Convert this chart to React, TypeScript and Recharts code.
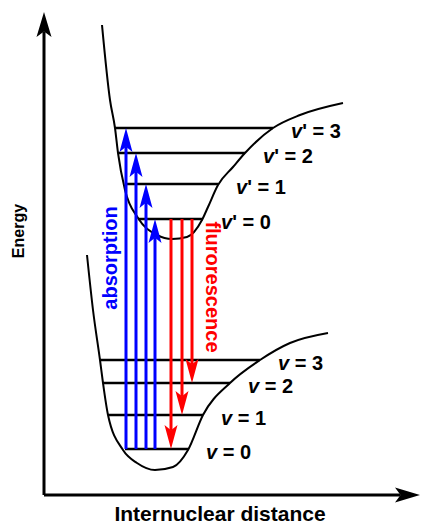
import React from 'react';
import { ComposedChart, Line, XAxis, YAxis, ReferenceLine, Customized } from 'recharts';

// potential energy curves: r = internuclear distance, e = energy (arbitrary units)
const excitedR = [58, 66, 71, 74, 81, 94, 113, 128, 143, 158, 164, 174, 189, 201, 229, 256, 299];
const excitedE = [470, 395, 367, 342, 305, 277, 260, 256, 258, 275, 288, 310, 328, 342, 367, 380, 392];
const groundR = [43, 49, 56, 59, 64, 79, 93, 111, 129, 144, 159, 186, 216, 246, 284];
const groundE = [240, 185, 135, 112, 80, 45, 32, 25, 28, 45, 80, 112, 135, 152, 162];

// vibrational levels (v = 0..3)
const quanta = [0, 1, 2, 3];
const excitedLevels = [276, 311, 342, 367];
const excitedLeft = [94, 83, 74, 71];
const excitedRight = [159, 174, 201, 229];
const groundLevels = [46, 80, 112, 135];
const groundLeft = [81, 64, 59, 56];
const groundRight = [144, 159, 186, 216];

// transitions
const absorptionR = [82, 92, 102, 111];
const absorptionTo = [3, 2, 1, 0];
const fluorescenceR = [127, 138, 148];
const fluorescenceTo = [0, 1, 2];

const R_MAX = 377;
const E_MAX = 495;
const FONT = '"Liberation Sans", Arial, sans-serif';

const excitedCurve = excitedR.map((r, i) => ({ r, e: excitedE[i] }));
const groundCurve = groundR.map((r, i) => ({ r, e: groundE[i] }));

function arrowShape(color: string, width: number, headLen: number, headW: number) {
  return (p: any) => {
    const { x1, y1, x2, y2 } = p;
    const dx = x2 - x1;
    const dy = y2 - y1;
    const len = Math.hypot(dx, dy) || 1;
    const ux = dx / len;
    const uy = dy / len;
    const px = -uy;
    const py = ux;
    const bx = x2 - ux * headLen;
    const by = y2 - uy * headLen;
    const nx = x2 - ux * headLen * 0.78;
    const ny = y2 - uy * headLen * 0.78;
    const pts = `${x2},${y2} ${bx + (px * headW) / 2},${by + (py * headW) / 2} ${nx},${ny} ${bx - (px * headW) / 2},${by - (py * headW) / 2}`;
    return (
      <g>
        <line x1={x1} y1={y1} x2={nx} y2={ny} stroke={color} strokeWidth={width} />
        <polygon points={pts} fill={color} />
      </g>
    );
  };
}

function levelShape(n: number, prime: boolean) {
  return (p: any) => {
    const { x1, y1, x2, y2 } = p;
    return (
      <g>
        <line x1={x1} y1={y1} x2={x2} y2={y2} stroke="#000" strokeWidth={2.6} />
        <text x={x2 + 18} y={y2 + 10} fontFamily={FONT} fontWeight="bold" fontSize={20} fill="#000">
          <tspan fontStyle="italic">v</tspan>
          {prime ? "' = " : ' = '}
          {n}
        </text>
      </g>
    );
  };
}

const Texts = () => (
  <g fontFamily={FONT} fontWeight="bold">
    <text x={18} y={231} fontSize={16} textAnchor="middle" dominantBaseline="central" transform="rotate(-90 18 231)">
      Energy
    </text>
    <text x={110} y={258} fontSize={20} fill="#0000ff" textAnchor="middle" dominantBaseline="central" transform="rotate(-90 110 258)">
      absorption
    </text>
    <text x={213} y={287} fontSize={20} fill="#ff0000" textAnchor="middle" dominantBaseline="central" transform="rotate(90 213 287)">
      flurorescence
    </text>
    <text x={220} y={521} fontSize={21} textAnchor="middle">
      Internuclear distance
    </text>
  </g>
);

export default function App() {
  return (
    <div style={{ position: 'absolute', left: 0, top: 0, width: 421, height: 526, background: '#fff' }}>
      <ComposedChart width={421} height={526} margin={{ top: 0, right: 0, bottom: 31, left: 44 }}>
        <XAxis dataKey="r" type="number" domain={[0, R_MAX]} hide allowDataOverflow />
        <YAxis type="number" domain={[0, E_MAX]} hide allowDataOverflow />

        {/* axes with arrow heads */}
        <ReferenceLine
          ifOverflow="visible"
          segment={[{ x: 0, y: 0 }, { x: 0, y: 483 }]}
          shape={arrowShape('#000', 3, 25, 15)}
        />
        <ReferenceLine
          ifOverflow="visible"
          segment={[{ x: 0, y: 0 }, { x: 376, y: 0 }]}
          shape={arrowShape('#000', 3, 25, 15)}
        />

        <Line data={excitedCurve} dataKey="e" type="monotone" stroke="#000" strokeWidth={2} dot={false} isAnimationActive={false} />
        <Line data={groundCurve} dataKey="e" type="monotone" stroke="#000" strokeWidth={2} dot={false} isAnimationActive={false} />

        {quanta.map((n, i) => (
          <ReferenceLine
            key={'ex' + n}
            ifOverflow="visible"
            segment={[{ x: excitedLeft[i], y: excitedLevels[i] }, { x: excitedRight[i], y: excitedLevels[i] }]}
            shape={levelShape(n, true)}
          />
        ))}
        {quanta.map((n, i) => (
          <ReferenceLine
            key={'gr' + n}
            ifOverflow="visible"
            segment={[{ x: groundLeft[i], y: groundLevels[i] }, { x: groundRight[i], y: groundLevels[i] }]}
            shape={levelShape(n, false)}
          />
        ))}

        {absorptionR.map((r, i) => (
          <ReferenceLine
            key={'abs' + i}
            ifOverflow="visible"
            segment={[{ x: r, y: groundLevels[0] }, { x: r, y: excitedLevels[absorptionTo[i]] }]}
            shape={arrowShape('#0000ff', 3, 24, 13)}
          />
        ))}
        {fluorescenceR.map((r, i) => (
          <ReferenceLine
            key={'fl' + i}
            ifOverflow="visible"
            segment={[{ x: r, y: excitedLevels[0] }, { x: r, y: groundLevels[fluorescenceTo[i]] }]}
            shape={arrowShape('#ff0000', 3, 24, 13)}
          />
        ))}

        <Customized component={Texts} />
      </ComposedChart>
    </div>
  );
}
